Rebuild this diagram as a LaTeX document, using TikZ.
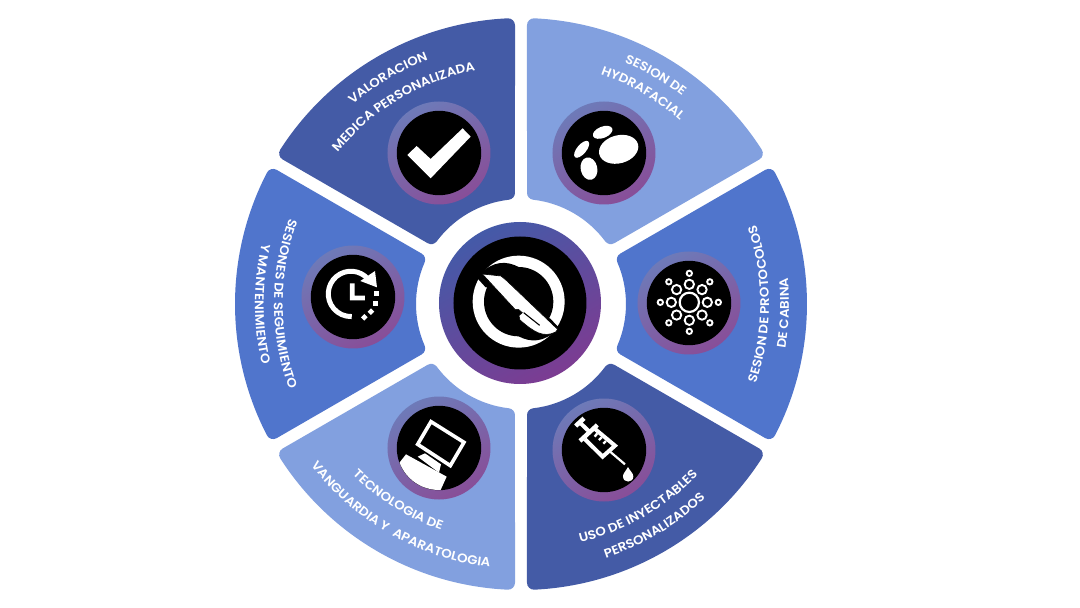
\documentclass[tikz,border=0pt]{standalone}
\usepackage{fontspec}
\usetikzlibrary{decorations.text}
\newfontfamily\labfont{Poppins}[UprightFont={* SemiBold},FakeStretch=1.07]
\definecolor{segdark}{RGB}{68,91,166}
\definecolor{seglight}{RGB}{130,160,223}
\definecolor{segmid}{RGB}{80,117,204}
\definecolor{ringa}{RGB}{110,122,184}
\definecolor{ringb}{RGB}{136,78,152}
\definecolor{ringc}{RGB}{68,90,168}
\definecolor{ringd}{RGB}{124,60,146}
\tikzset{
  segfill/.style={fill=#1,draw=#1,line width=14pt,line join=round},
  smallring/.style={top color=ringa,bottom color=ringb,shading angle=30},
  bigring/.style={top color=ringc,bottom color=ringd,shading angle=30},
  iconline/.style={draw=white,line width=#1,line cap=butt,line join=miter},
  icon/.style={shift={#1},x=0.3333pt,y=-0.3333pt}
}
\newcommand{\segm}[2]{%
  \pgfmathsetmacro{\aa}{#1+30-2.67}\pgfmathsetmacro{\ab}{#1-30+2.67}%
  \pgfmathsetmacro{\ac}{#1-30+6.67}\pgfmathsetmacro{\ad}{#1+30-6.67}%
  \path[segfill=#2] (\aa:279) arc[start angle=\aa,end angle=\ab,radius=279]
    -- (\ac:112) arc[start angle=\ac,end angle=\ad,radius=112] -- cycle;}
% tops outward: clockwise path
\newcommand{\labcw}[3]{%
  \pgfmathsetmacro{\aa}{#1+55}\pgfmathsetmacro{\ab}{#1-55}%
  \path[decorate,decoration={text along path,text align=center,
    text={|\labfont\fontsize{12.5}{13}\selectfont\color{white}|#3}}]
    (\aa:#2) arc[start angle=\aa,end angle=\ab,radius=#2];}
% tops inward: counter-clockwise path
\newcommand{\labccw}[3]{%
  \pgfmathsetmacro{\aa}{#1-55}\pgfmathsetmacro{\ab}{#1+55}%
  \path[decorate,decoration={text along path,text align=center,
    text={|\labfont\fontsize{12.5}{13}\selectfont\color{white}|#3}}]
    (\aa:#2) arc[start angle=\aa,end angle=\ab,radius=#2];}
\begin{document}
\begin{tikzpicture}[x=1pt,y=1pt]
\useasboundingbox (-521,-304) rectangle (559,304);
\fill[white] (-521,-304) rectangle (559,304);
% segments
\segm{120}{segdark}
\segm{60}{seglight}
\segm{0}{segmid}
\segm{-60}{segdark}
\segm{240}{seglight}
\segm{180}{segmid}
% rings
\foreach \p in {(-82,151),(83,151),(168,1),(83,-146),(-82,-144),(-168,7)}{
  \shade[smallring] \p circle[radius=51.5];
  \fill[black] \p circle[radius=42.2];
}
\shade[bigring] (-1,1) circle[radius=81];
\fill[black] (-1,1) circle[radius=66.5];
% labels
\labcw{120.5}{261}{VALORACION}
\labcw{120.7}{238}{MEDICA PERSONALIZADA}
\labcw{59.5}{263}{SESION DE}
\labcw{60}{243}{HYDRAFACIAL}
\labccw{0}{248}{SESION DE PROTOCOLOS}
\labccw{-2}{268}{DE CABINA}
\labccw{180}{247}{SESIONES DE SEGUIMIENTO}
\labccw{180}{266}{Y MANTENIMIENTO}
\labccw{238}{240}{TECNOLOGIA DE}
\labccw{240.4}{265}{VANGUARDIA Y{ }{ }APARATOLOGIA}
\labccw{-60}{246}{USO DE INYECTABLES}
\labccw{-59}{268}{PERSONALIZADOS}
% centre icon
\begin{scope}[icon={(-56,54)}]
  \fill[white] (161,155) circle[radius=138];
  \fill[black] (161,155) circle[radius=104];
  \fill[black] (45,72) .. controls (85,32) and (125,32) .. (161,51) -- (161,155) -- cycle;
  \fill[black] (277,238) .. controls (237,278) and (197,278) .. (161,259) -- (161,155) -- cycle;
  \fill[black] (20,66) -- (62,112) -- (120,112) -- (120,70) -- (45,72) -- cycle;
  \fill[black] (255,205) -- (297,249) -- (277,238) -- (202,240) -- (202,198) -- cycle;
  \fill[white,draw=black,line width=0.6pt] (52,72) -- (108,78) -- (125,92) -- (278,238) -- (272,246)
     .. controls (235,265) and (205,245) .. (165,210)
     -- (162,197) -- (172,188) -- (160,178) -- (150,178) -- cycle;
  \draw[black,line width=1.1pt] (176,188) -- (224,226);
\end{scope}
% check icon
\begin{scope}[icon={(-251,294)}]
  \fill[white] (412,435) -- (440,408) -- (482,447) -- (578,355) -- (602,380) -- (482,505) -- cycle;
\end{scope}
% hydrafacial icon
\begin{scope}[icon={(-1,294)}]
  \fill[white,shift={(296,418)},rotate=15] (0,0) ellipse[x radius=60,y radius=42];
  \fill[white,shift={(248,367)},rotate=22] (0,0) ellipse[x radius=31,y radius=17];
  \fill[white,shift={(185,418)},rotate=50] (0,0) ellipse[x radius=31,y radius=14];
  \fill[white,shift={(207,476)},rotate=-78] (0,0) ellipse[x radius=34,y radius=25];
\end{scope}
% network icon
\begin{scope}[icon={(124,46)}]
  \draw[white,line width=2.2pt] (133,133) circle[radius=29];
  \foreach \a in {0,45,...,315}{
    \draw[white,line width=1.9pt] ({133+54*cos(\a)},{133+54*sin(\a)}) circle[radius=14];
    \draw[white,line width=1.9pt] ({133+87*cos(\a)},{133+87*sin(\a)}) circle[radius=8];
  }
\end{scope}
% syringe icon
\begin{scope}[icon={(39,-101)}]
  \draw[iconline=4.5pt] (47,63) -- (72,40);
  \draw[iconline=4pt] (62,55) -- (90,82);
  \draw[iconline=4.4pt] (60,108) -- (112,60);
  \draw[iconline=4pt] (105,72) -- (165,122) -- (128,155) -- (75,103);
  \draw[iconline=2.4pt] (112,85) -- (104,95);
  \draw[iconline=2.4pt] (125,97) -- (117,105);
  \draw[iconline=2.4pt] (138,108) -- (130,116);
  \draw[iconline=2.2pt] (148,138) -- (195,178);
  \fill[white] (204,186) .. controls (198,198) and (189,205) .. (189,214)
     .. controls (189,235) and (220,235) .. (220,214)
     .. controls (220,205) and (210,198) .. (204,186) -- cycle;
\end{scope}
% computer icon
\begin{scope}[icon={(-126,-101)}]
  \draw[iconline=3.6pt] (108,50) -- (207,112) -- (166,182) -- (68,118) -- cycle;
  \fill[white] (68,155) -- (90,145) -- (138,178) -- (132,203) -- cycle;
  \begin{scope}
    \clip (132,129) circle[radius=126];
    \fill[white] (33,148) -- (155,215) -- (130,270) -- (0,270) -- (0,190) -- cycle;
  \end{scope}
\end{scope}
% clock icon
\begin{scope}[icon={(-211,49)}]
  \draw[white,line width=5pt] (175,73) arc[start angle=-40,end angle=-272,radius=68];
  \fill[white] (195,48) -- (201,97) -- (151,78) -- cycle;
  \fill[white] (120,85) -- (134,85) -- (134,122) -- (165,122) -- (165,136) -- (120,136) -- cycle;
  \fill[white] (193,108) -- (208,108) -- (208,123) -- (193,123) -- cycle;
  \fill[white] (190,138) -- (205,138) -- (205,153) -- (190,153) -- cycle;
  \fill[white] (183,160) -- (193,170) -- (183,180) -- (173,170) -- cycle;
  \fill[white] (163,177) -- (173,187) -- (163,197) -- (153,187) -- cycle;
\end{scope}
\end{tikzpicture}
\end{document}
